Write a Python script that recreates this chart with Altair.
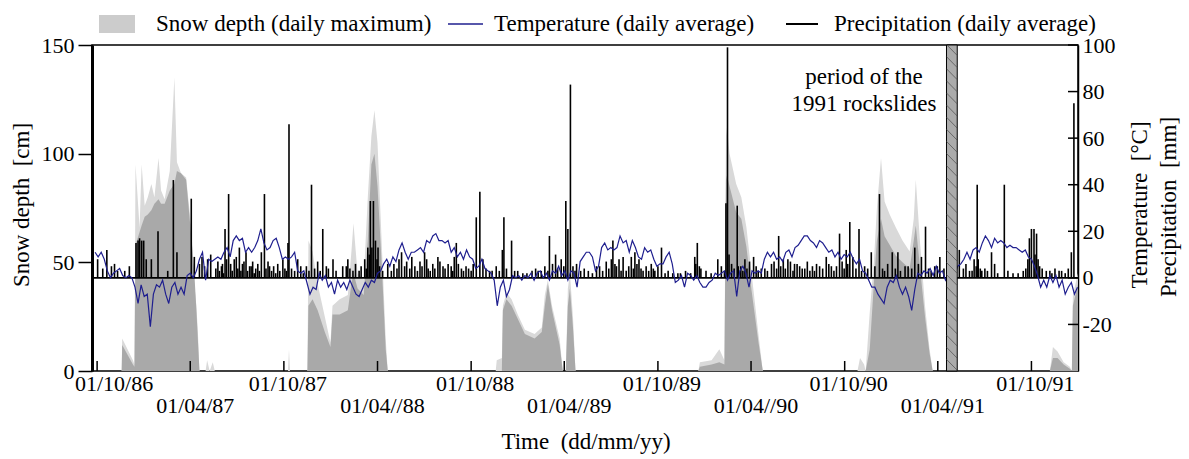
import altair as alt
import pandas as pd
import numpy as np

W, H = 986, 326
BASE = pd.Timestamp("1986-10-01")
FONT = "Liberation Serif"
NB = "\u00a0"

# ------------------------------------------------------------------ data
# daily-average temperature, sampled every 6 days starting 1986-09-27 (day -4)
temp_first_day = -4
temp_step = 6
temperature = [
    11, 9, 11, 8, 3, 0, 2, 3, 4, 1, 0, 1, 0, -4, -11, -3, -8, -7, -21, -7,
    -3, -4, -1, -7, -11, -4, -2, -7, -4, -7, 1, 2, 0, 3, 8, 11, -1, 8, 7, 8,
    9, 8, 11, 13, 9, 16, 18, 16, 17, 11, 13, 11, 13, 16, 21, 15, 12, 13, 16, 17,
    13, 8, 9,
    8, 9, 11, 3, 2, 3, -2, -7, -4, -5, 2, -1, 1, -4, -2, -7, -1, -4, -2, -5,
    -1, -4, -7, -8, -5, -2, -4, -1, -2, 2, 3, 6, 8, 5, 9, 7, 12, 15, 11, 8,
    11, 11, 12, 13, 11, 16, 15, 18, 19, 16, 16, 15, 16, 11, 13, 9, 11, 8, 12, 9,
    8, 4, 5, 8,
    4, 3, 2, -1, -12, -4, -1, -8, -5, 1, 0, 1, -1, 1, 0, 2, -1, 2, 3, 0,
    2, -1, 3, 2, 5, 1, 3, -1, 3, 2, -4, 7, 9, 11, 11, 9, 3, 5, 13, 15,
    12, 13, 12, 13, 18, 15, 16, 11, 16, 13, 9, 8, 13, 11, 12, 8, 5, 6, 6, 9,
    11, 6, -2,
    -1, 1, -4, 2, 1, -1, 1, -2, -4, -4, -2, -1, 2, 1, 2, 3, -1, 2, 3, -8,
    3, 5, 2, -4, 3, 2, 3, 2, 8, 11, 9, 11, 8, 9, 7, 11, 12, 9, 13, 14,
    16, 18, 18, 16, 15, 13, 16, 15, 13, 11, 12, 9, 11, 8, 10, 9, 11, 8, 6, 8,
    3, 2, -1, -4,
    -4, -7, -9, -11, -4, -1, -2, 1, -4, -7, -4, -8, -14, -5, 2, 1, 3, 2, 4, 1,
    5, 2, 3, -1, 2, -2, 1, 5, 6, 8, 11, 8, 12, 13, 11, 15, 18, 16, 13, 17,
    15, 16, 15, 13, 14, 13, 13, 12, 11, 12, 9, 8, 5, 1, -4, -1, -4, 1, -2, 1,
    -4, -1, -7, -4, -2, -7, -4,
]

# snow depth key points (day = days after 1986-10-01)
snow_day = [
    -10, 48, 49, 70, 73, 75, 83, 87, 93, 99, 106, 112, 120, 125, 132, 142, 151, 156, 164, 174,
    184, 190, 194, 197, 200, 212, 215, 220, 226, 230,
    373, 375, 377, 411, 413, 421, 431, 445, 456, 460, 474, 490, 497, 501, 509, 521, 529, 536, 542, 548,
    556, 564, 568,
    779, 781, 791, 793, 800, 810, 822, 836, 855, 869, 875, 881, 889, 904, 910, 916, 920, 924, 930, 935,
    1175, 1178, 1201, 1216, 1226, 1229, 1231, 1236, 1249, 1259, 1269, 1279, 1292, 1301,
    1486, 1491, 1499, 1502, 1510, 1518, 1524, 1532, 1539, 1549, 1561, 1574, 1588, 1596, 1600, 1608,
    1618, 1627, 1633,
    1862, 1868, 1877, 1889, 1901, 1905, 1907, 1917,
]
snow_max = [
    0, 0, 15, 5, 3, 95, 66, 95, 76, 80, 86, 80, 98, 83, 79, 92, 135, 96, 91, 89,
    66, 40, 30, 18, 0, 0, 5, 0, 4, 0,
    0, 10, 0, 0, 60, 55, 40, 25, 13, 30, 33, 35, 55, 68, 45, 42, 80, 108, 120, 105,
    60, 15, 0,
    0, 5, 6, 30, 36, 33, 26, 19, 17, 20, 35, 42, 30, 15, 0, 0, 38, 45, 25, 0,
    0, 4, 5, 10, 5, 108, 112, 100, 86, 80, 66, 45, 18, 0,
    0, 6, 3, 0, 27, 50, 75, 98, 78, 72, 66, 60, 55, 70, 88, 60,
    30, 10, 0,
    0, 11, 9, 4, 2, 0, 35, 45,
]
snow_main = [
    0, 0, 12, 3, 2, 58, 64, 67, 71, 72, 74, 77, 79, 77, 77, 83, 86, 92, 91, 88,
    62, 45, 28, 14, 0, 0, 0, 0, 0, 0,
    0, 0, 0, 0, 30, 33, 28, 18, 11, 26, 26, 28, 40, 45, 38, 35, 60, 95, 100, 85,
    50, 10, 0,
    0, 0, 0, 28, 33, 30, 24, 17, 15, 18, 30, 40, 28, 12, 0, 0, 30, 38, 20, 0,
    0, 2, 3, 4, 3, 88, 90, 85, 73, 70, 57, 37, 14, 0,
    0, 0, 0, 0, 10, 40, 60, 70, 62, 58, 53, 50, 47, 60, 67, 48,
    25, 8, 0,
    0, 6, 6, 3, 1, 0, 30, 40,
]

# precipitation events: (day after 1986-10-01, mm)
precip_events = [
    (1, 8), (11, 4), (19, 12), (28, 5), (34, 6), (40, 3), (54, 3), (63, 5), (76, 15), (80, 16),
    (83, 17), (87, 16), (91, 16), (96, 8), (106, 8), (119, 20), (138, 3), (149, 42), (156, 11), (184, 34),
    (190, 9), (200, 6), (205, 9), (210, 5), (216, 8), (222, 10), (245, 6), (250, 21), (253, 8), (257, 36),
    (272, 9), (278, 13), (284, 6), (291, 11), (298, 5), (304, 7), (310, 4), (321, 11), (327, 36), (337, 5),
    (363, 8), (373, 15), (375, 66), (392, 8), (409, 5), (419, 40), (431, 7), (441, 21), (448, 5), (461, 8),
    (487, 5), (490, 8), (500, 3), (523, 8), (529, 13), (534, 33), (537, 13), (540, 33), (544, 16), (549, 13),
    (568, 6), (595, 11), (601, 5), (621, 5), (640, 11), (647, 4), (666, 9), (676, 5), (686, 6), (692, 5),
    (702, 15), (712, 4), (741, 26), (748, 37), (754, 8), (767, 3), (792, 12), (795, 26), (810, 16), (816, 3),
    (832, 2), (868, 3), (875, 5), (881, 3), (884, 18), (896, 10), (907, 8), (916, 33), (920, 21), (925, 83),
    (930, 5), (937, 6), (976, 5), (1005, 8), (1008, 16), (1015, 5), (1028, 9), (1034, 3), (1044, 9), (1051, 11),
    (1059, 8), (1067, 3), (1073, 5), (1083, 6), (1090, 3), (1103, 13), (1125, 2), (1135, 2), (1173, 15), (1177, 5),
    (1213, 8), (1226, 3), (1229, 32), (1232, 99), (1251, 31), (1253, 5), (1266, 8), (1275, 7), (1283, 9), (1298, 4),
    (1318, 6), (1332, 18), (1341, 8), (1350, 8), (1363, 6), (1373, 5), (1383, 4), (1406, 6), (1412, 5), (1425, 9),
    (1435, 5), (1451, 19), (1464, 12), (1471, 24), (1477, 9), (1489, 21), (1500, 5), (1513, 11), (1529, 36), (1539, 3),
    (1554, 11), (1565, 11), (1579, 5), (1598, 13), (1611, 9), (1619, 22), (1637, 5), (1647, 9), (1685, 12), (1705, 3),
    (1720, 40), (1722, 8), (1729, 3), (1748, 11), (1754, 6), (1773, 40), (1790, 2), (1810, 3), (1822, 17), (1826, 21),
    (1831, 21), (1836, 19), (1842, 5), (1862, 3), (1872, 4), (1885, 3), (1904, 11), (1909, 75),
    (232, 4), (236, 7), (239, 3), (243, 5), (247, 2), (261, 6), (264, 3), (268, 8), (275, 4), (281, 3),
    (287, 7), (294, 3), (301, 5), (307, 2), (314, 6), (317, 3), (330, 4), (334, 7), (341, 3), (345, 5),
    (349, 2), (353, 6), (357, 3), (367, 4), (370, 3),
    (380, 4), (386, 3), (398, 5), (403, 2), (414, 3), (425, 4), (436, 3), (452, 4), (467, 3), (480, 5),
    (494, 4), (505, 6), (512, 3), (516, 5), (526, 4), (532, 10), (547, 8), (552, 5), (558, 3),
    (575, 3), (580, 6), (586, 4), (590, 8), (605, 7), (611, 4), (615, 9), (626, 3), (631, 7), (635, 5),
    (644, 8), (651, 3), (656, 6), (660, 4), (670, 7), (680, 4), (695, 3), (698, 9), (706, 6), (716, 3),
    (721, 5), (726, 4), (731, 3), (735, 6),
    (760, 4), (772, 3), (780, 5), (786, 3), (800, 4), (822, 3), (840, 2), (850, 3), (857, 4), (862, 3),
    (890, 6), (900, 4), (912, 5), (934, 3),
    (945, 3), (952, 4), (960, 3), (968, 2), (982, 5), (988, 3), (995, 7), (1000, 4), (1012, 6), (1020, 8),
    (1024, 3), (1039, 5), (1048, 4), (1055, 6), (1063, 4), (1078, 3), (1087, 4), (1096, 5), (1110, 2), (1116, 3),
    (1140, 2), (1150, 3), (1160, 2), (1168, 9), (1170, 6), (1180, 4), (1190, 3), (1200, 2), (1220, 5), (1235, 10),
    (1240, 6), (1245, 4), (1258, 5), (1262, 3), (1270, 4), (1288, 5), (1292, 3),
    (1305, 4), (1310, 3), (1323, 7), (1328, 4), (1336, 5), (1345, 4), (1355, 7), (1360, 3), (1368, 6), (1378, 4),
    (1388, 7), (1393, 3), (1398, 5), (1402, 3), (1418, 4), (1430, 6), (1440, 3), (1445, 5), (1456, 7), (1460, 4),
    (1467, 6), (1483, 4), (1494, 3),
    (1506, 4), (1520, 5), (1535, 4), (1545, 6), (1560, 4), (1570, 3), (1585, 5), (1592, 4), (1605, 6), (1625, 4),
    (1630, 3), (1642, 5), (1655, 4),
    (1693, 4), (1698, 6), (1710, 3), (1714, 8), (1718, 5), (1726, 4), (1735, 4), (1740, 3), (1760, 2), (1780, 3),
    (1800, 2), (1815, 4), (1819, 8), (1833, 10), (1839, 8), (1847, 4), (1855, 3), (1866, 2), (1880, 3), (1892, 2),
    (1898, 4),
]

xtick_dates = ["1986-10-01", "1987-04-01", "1987-10-01", "1988-04-01", "1988-10-01", "1989-04-01",
               "1989-10-01", "1990-04-01", "1990-10-01", "1991-04-01", "1991-10-01"]
xtick_labels = ["01/10/86", "01/04/87", "01/10/87", "01/04//88", "01/10/88", "01/04//89",
                "01/10/89", "01/04//90", "01/10/90", "01/04//91", "01/10/91"]

rockslide_dates = ["1991-04-18", "1991-05-09"]
left_ticks = [0, 50, 100, 150]
right_ticks = [-20, 0, 20, 40, 60, 80, 100]
legend_labels = ["Snow depth (daily maximum)", "Temperature (daily average)", "Precipitation (daily average)"]
titles = ["Snow depth" + NB + " [cm]", "Temperature" + NB + " [°C]", "Precipitation" + NB + " [mm]",
          "Time" + NB + " (dd/mm/yy)"]
annotation = ["period of the", "1991 rockslides"]


def day_of(s):
    return (pd.Timestamp(s) - BASE).days


temp_df = pd.DataFrame({"day": [temp_first_day + temp_step * i for i in range(len(temperature))],
                        "t": temperature})
snow_df = pd.DataFrame({"day": snow_day, "light": snow_max, "dark": snow_main})
pr_df = pd.DataFrame(precip_events, columns=["day", "mm"])
pr_df["zero"] = 0
xt_df = pd.DataFrame({"day": [day_of(d) for d in xtick_dates], "label": xtick_labels})
oct_df = xt_df.iloc[2::2]
first_df = xt_df.iloc[0:1]
apr_df = xt_df.iloc[1::2]
b0, b1 = day_of(rockslide_dates[0]), day_of(rockslide_dates[1])
band_df = pd.DataFrame({"d0": [b0], "d1": [b1]})
hv = np.arange(-35.0, 100.5, 5.2)
hatch_df = pd.DataFrame({"d0": b0, "d1": b1, "v0": hv, "v1": hv - 4.7})
one = pd.DataFrame({"a": [0]})

# ------------------------------------------------------------------ scales
xs = alt.Scale(domain=[-10, 1917], nice=False, zero=False)


def X(f="day"):
    return alt.X(f"{f}:Q", scale=xs, axis=None)


ysl = alt.Scale(domain=[0, 150], nice=False, zero=False)
ysr = alt.Scale(domain=[-40, 100], nice=False, zero=False)

left_axis = alt.Axis(orient="left", values=left_ticks, title=None, grid=False,
                     domainColor="black", domainWidth=3, tickColor="black", tickSize=14,
                     tickWidth=1.5, labelFont=FONT, labelFontSize=22, labelColor="black",
                     labelPadding=4)
right_axis = alt.Axis(orient="right", values=right_ticks, title=None, grid=False, ticks=False,
                      domainColor="black", domainWidth=1.5, labelFont=FONT, labelFontSize=22,
                      labelColor="black", labelPadding=4, labelExpr="'' + datum.value")

# ------------------------------------------------------------------ left group (snow)
snow_light = alt.Chart(snow_df).mark_area(color="#d9d9d9").encode(
    x=X(), y=alt.Y("light:Q", scale=ysl, axis=left_axis))
snow_dark = alt.Chart(snow_df).mark_area(color="#a9a9a9").encode(
    x=X(), y=alt.Y("dark:Q", scale=ysl, axis=left_axis))
left = alt.layer(snow_light, snow_dark)

# ------------------------------------------------------------------ right group
precip = alt.Chart(pr_df).mark_rule(color="black", strokeWidth=1.6).encode(
    x=X(), y=alt.Y("mm:Q", scale=ysr, axis=right_axis), y2="zero")
zero_line = alt.Chart(one).mark_rule(color="black", strokeWidth=1.6).encode(
    y=alt.Y("a:Q", scale=ysr, axis=right_axis))
temp_line = alt.Chart(temp_df).mark_line(color="#1f1f8f", strokeWidth=1.2).encode(
    x=X(), y=alt.Y("t:Q", scale=ysr, axis=right_axis))
band = alt.Chart(band_df).mark_rect(fill="#ababab", stroke="black", strokeWidth=1).encode(
    x=X("d0"), x2="d1", y=alt.value(0), y2=alt.value(H))
hatch = alt.Chart(hatch_df).mark_rule(color="#4a4a4a", strokeWidth=0.7).encode(
    x=X("d0"), x2="d1", y=alt.Y("v0:Q", scale=ysr, axis=right_axis), y2="v1")
rticks = alt.Chart(pd.DataFrame({"v": right_ticks})).mark_rule(color="black", strokeWidth=1.5).encode(
    y=alt.Y("v:Q", scale=ysr, axis=right_axis), x=alt.value(W - 10), x2=alt.value(W))
right = alt.layer(precip, zero_line, temp_line, band, hatch, rticks)

# ------------------------------------------------------------------ extras (ticks, labels, legend, titles)
btick = alt.Chart(xt_df).mark_rule(color="black", strokeWidth=1.5).encode(
    x=X(), y=alt.value(H - 10), y2=alt.value(H))
txt = dict(font=FONT, fontSize=22, color="black", baseline="middle")
oct_lab = alt.Chart(oct_df).mark_text(align="center", dx=4, **txt).encode(
    x=X(), y=alt.value(H + 13), text="label:N")
first_lab = alt.Chart(first_df).mark_text(align="center", dx=17, **txt).encode(
    x=X(), y=alt.value(H + 13), text="label:N")
apr_lab = alt.Chart(apr_df).mark_text(align="center", dx=5, **txt).encode(
    x=X(), y=alt.value(H + 35), text="label:N")

leg = dict(font=FONT, fontSize=23, color="black", baseline="middle", align="left")
lg_sw = alt.Chart(one).mark_rect(fill="#cccccc").encode(
    x=alt.value(7), x2=alt.value(43), y=alt.value(-30), y2=alt.value(-12))
lg_t1 = alt.Chart(one).mark_text(**leg).encode(x=alt.value(64), y=alt.value(-21), text=alt.value(legend_labels[0]))
lg_l2 = alt.Chart(one).mark_rule(color="#1f1f8f", strokeWidth=1.5).encode(
    x=alt.value(356), x2=alt.value(391), y=alt.value(-21))
lg_t2 = alt.Chart(one).mark_text(**leg).encode(x=alt.value(402), y=alt.value(-21), text=alt.value(legend_labels[1]))
lg_l3 = alt.Chart(one).mark_rule(color="black", strokeWidth=2).encode(
    x=alt.value(694), x2=alt.value(726), y=alt.value(-21))
lg_t3 = alt.Chart(one).mark_text(**leg).encode(x=alt.value(742), y=alt.value(-21), text=alt.value(legend_labels[2]))

ttl = dict(font=FONT, fontSize=23, color="black", baseline="middle", align="center")
t_left = alt.Chart(one).mark_text(angle=270, **ttl).encode(
    x=alt.value(-70), y=alt.value(160), text=alt.value(titles[0]))
t_r1 = alt.Chart(one).mark_text(angle=270, **ttl).encode(
    x=alt.value(1048), y=alt.value(160), text=alt.value(titles[1]))
t_r2 = alt.Chart(one).mark_text(angle=270, **ttl).encode(
    x=alt.value(1077), y=alt.value(162), text=alt.value(titles[2]))
t_bot = alt.Chart(one).mark_text(**ttl).encode(
    x=alt.value(494), y=alt.value(397), text=alt.value(titles[3]))
ann1 = alt.Chart(one).mark_text(**ttl).encode(
    x=alt.value(772), y=alt.value(32), text=alt.value(annotation[0]))
ann2 = alt.Chart(one).mark_text(**ttl).encode(
    x=alt.value(772), y=alt.value(59), text=alt.value(annotation[1]))

extras = alt.layer(btick, oct_lab, first_lab, apr_lab, lg_sw, lg_t1, lg_l2, lg_t2, lg_l3, lg_t3,
                   t_left, t_r1, t_r2, t_bot, ann1, ann2)

chart = alt.layer(left, right, extras).resolve_scale(y="independent").properties(
    width=W, height=H,
    padding={"left": 92, "top": 45, "right": 111, "bottom": 88},
    autosize=alt.AutoSizeParams(type="none"),
).configure_view(stroke="black", strokeWidth=1.5)

chart.save("out.html", embed_options={"renderer": "svg", "actions": False})
